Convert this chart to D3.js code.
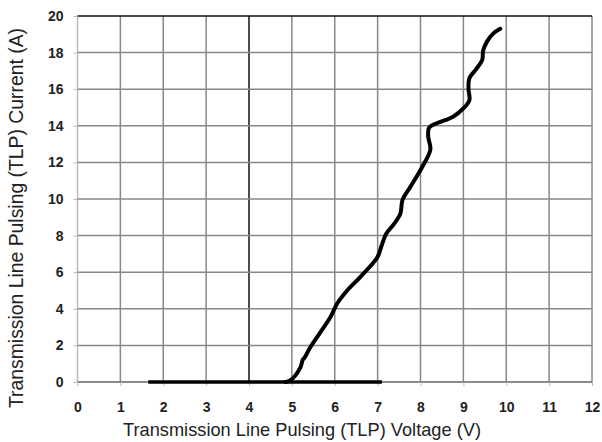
<!DOCTYPE html>
<html>
<head>
<meta charset="utf-8">
<script src="https://cdn.jsdelivr.net/npm/d3@7"></script>
<style>
  body { margin: 0; background: #fff; }
  svg { display: block; }
</style>
</head>
<body>
<div id="chart"></div>
<script>
// TLP curve
var voltage = [4.85, 4.97, 5.2, 5.25, 5.3, 5.43, 5.66, 5.9, 6.06, 6.29, 6.6, 6.99, 7.1, 7.2,
  7.37, 7.53, 7.58, 7.76, 8.04, 8.23, 8.18, 8.2, 8.39, 8.76, 9.0, 9.14, 9.12, 9.14, 9.3,
  9.44, 9.46, 9.55, 9.7, 9.86];
var current = [0, 0.1, 0.8, 1.2, 1.35, 1.9, 2.7, 3.55, 4.3, 5.0, 5.75, 6.8, 7.5, 8.1,
  8.6, 9.2, 9.95, 10.65, 11.75, 12.7, 13.4, 13.9, 14.15, 14.5, 14.95, 15.4, 16.0, 16.6, 17.1,
  17.6, 18.1, 18.6, 19.05, 19.3];

// flat part at 0 A
var flatVoltage = [1.65, 7.1];
var flatCurrent = [0, 0];

var xTicks = [0, 1, 2, 3, 4, 5, 6, 7, 8, 9, 10, 11, 12];
var yTicks = [0, 2, 4, 6, 8, 10, 12, 14, 16, 18, 20];

var svgWidth = 602;
var svgHeight = 442;

var margin = { top: 16, right: 10, bottom: 60, left: 77.5 };
var chartWidth = 592 - margin.left;
var chartHeight = 382 - margin.top;

var svg = d3.select("#chart")
  .append("svg")
  .attr("width", svgWidth)
  .attr("height", svgHeight);

var chartGroup = svg.append("g")
  .attr("transform", `translate(${margin.left}, ${margin.top})`);

var xScale = d3.scaleLinear().domain([0, 12]).range([0, chartWidth]);
var yScale = d3.scaleLinear().domain([0, 20]).range([chartHeight, 0]);

// grid
chartGroup.selectAll(".vgrid")
  .data(xTicks)
  .enter()
  .append("line")
  .attr("x1", d => xScale(d))
  .attr("x2", d => xScale(d))
  .attr("y1", 0)
  .attr("y2", chartHeight)
  .attr("stroke", d => d === 4 ? "#111" : (d === 0 ? "#bbb" : "#888"))
  .attr("stroke-width", 1.5);

chartGroup.selectAll(".hgrid")
  .data(yTicks)
  .enter()
  .append("line")
  .attr("x1", 0)
  .attr("x2", chartWidth)
  .attr("y1", d => yScale(d))
  .attr("y2", d => yScale(d))
  .attr("stroke", d => d === 20 ? "#111" : (d === 0 ? "#666" : "#888"))
  .attr("stroke-width", 1.5);

// axes
var bottomAxis = d3.axisBottom(xScale).tickValues(xTicks).tickSize(4).tickPadding(16);
var leftAxis = d3.axisLeft(yScale).tickValues(yTicks).tickSize(4).tickPadding(10);

var xAxis = chartGroup.append("g")
  .attr("transform", `translate(0, ${chartHeight})`)
  .call(bottomAxis);

var yAxis = chartGroup.append("g")
  .call(leftAxis);

[xAxis, yAxis].forEach(function(ax) {
  ax.select(".domain").remove();
  ax.selectAll(".tick line").attr("stroke", "#bbb");
  ax.selectAll(".tick text")
    .style("font-family", "Liberation Sans, Arial, sans-serif")
    .style("font-size", "14px")
    .style("font-weight", "bold")
    .attr("fill", "#222");
});

// data lines
var line = d3.line()
  .x(d => xScale(d[0]))
  .y(d => yScale(d[1]))
  .curve(d3.curveCatmullRom);

chartGroup.append("path")
  .datum(flatVoltage.map((v, i) => [v, flatCurrent[i]]))
  .attr("d", line)
  .attr("fill", "none")
  .attr("stroke", "#000")
  .attr("stroke-width", 3.5);

chartGroup.append("path")
  .datum(voltage.map((v, i) => [v, current[i]]))
  .attr("d", line)
  .attr("fill", "none")
  .attr("stroke", "#000")
  .attr("stroke-width", 4)
  .attr("stroke-linecap", "round")
  .attr("stroke-linejoin", "round");

// axis titles
svg.append("text")
  .attr("x", 302)
  .attr("y", 436)
  .attr("text-anchor", "middle")
  .attr("font-family", "Liberation Sans, Arial, sans-serif")
  .attr("font-size", 19)
  .attr("fill", "#222")
  .attr("textLength", 358)
  .attr("lengthAdjust", "spacingAndGlyphs")
  .text("Transmission Line  Pulsing (TLP) Voltage (V)");

svg.append("text")
  .attr("transform", "translate(23, 218) rotate(-90)")
  .attr("text-anchor", "middle")
  .attr("font-family", "Liberation Sans, Arial, sans-serif")
  .attr("font-size", 20)
  .attr("fill", "#222")
  .attr("textLength", 380)
  .attr("lengthAdjust", "spacingAndGlyphs")
  .text("Transmission Line  Pulsing (TLP) Current  (A)");
</script>
</body>
</html>
